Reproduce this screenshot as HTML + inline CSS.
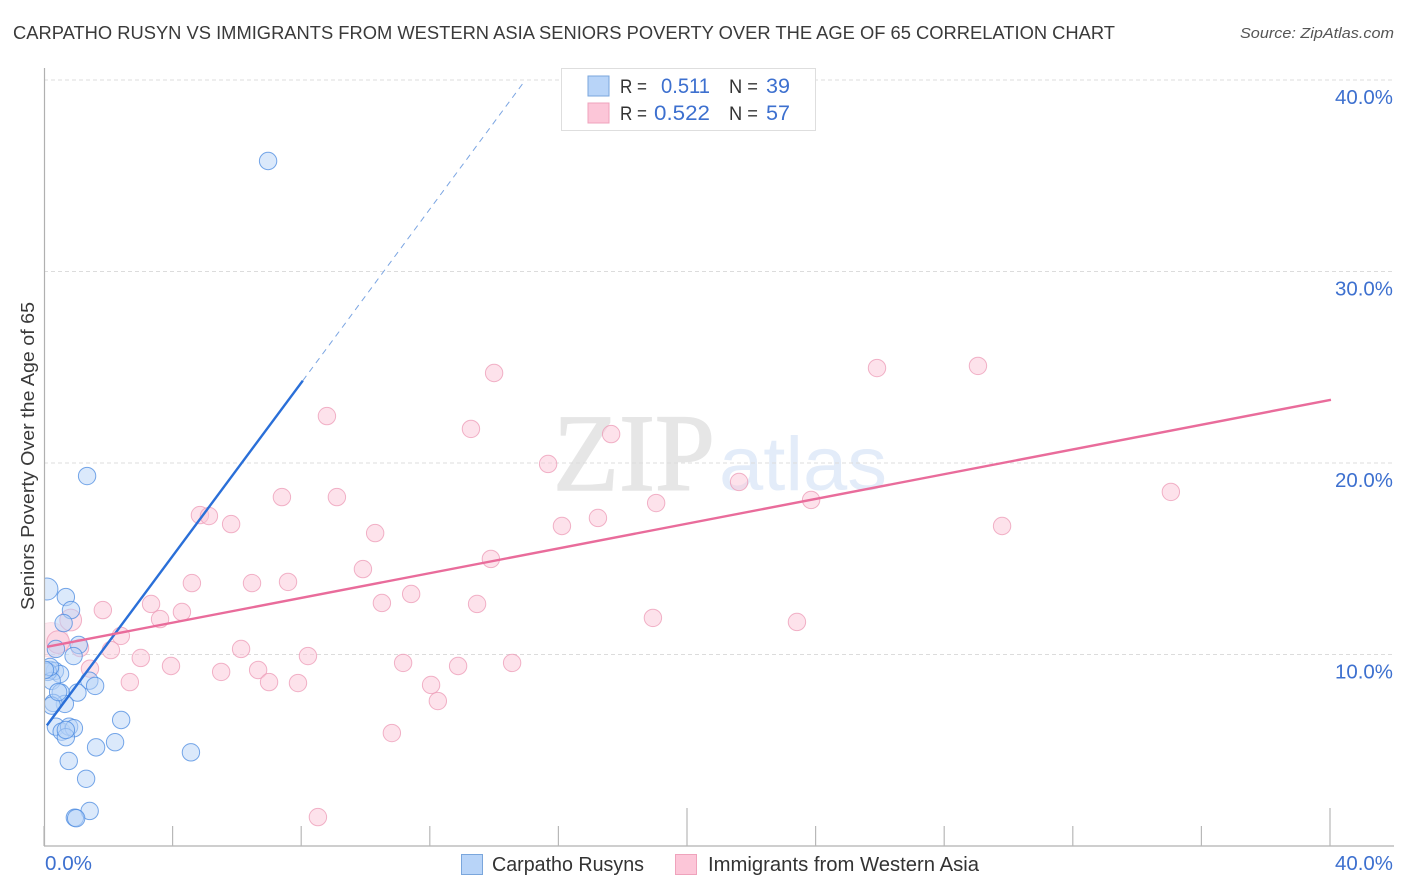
<!DOCTYPE html>
<html lang="en">
<head>
<meta charset="utf-8">
<title>Carpatho Rusyn vs Immigrants from Western Asia Seniors Poverty Correlation Chart</title>
<style>
html,body{margin:0;padding:0;background:#fff;width:1406px;height:892px;overflow:hidden}
svg{display:block;font-family:"Liberation Sans",sans-serif}
</style>
</head>
<body>
<svg id="chart" xmlns="http://www.w3.org/2000/svg" width="1406" height="892" viewBox="0 0 1406 892">
  <rect x="0" y="0" width="1406" height="892" fill="#fff"/>
  <text x="13" y="39" font-size="18.5" fill="#3a3a3a" textLength="1102" lengthAdjust="spacingAndGlyphs">CARPATHO RUSYN VS IMMIGRANTS FROM WESTERN ASIA SENIORS POVERTY OVER THE AGE OF 65 CORRELATION CHART</text>
  <text x="1394" y="38" font-size="15" font-style="italic" fill="#555" text-anchor="end" textLength="154" lengthAdjust="spacingAndGlyphs">Source: ZipAtlas.com</text>

  <g>
    <text x="553" y="490" font-family="'Liberation Serif',serif" font-size="110" fill="#e6e6e6" stroke="#e6e6e6" stroke-width="1.5" textLength="162" lengthAdjust="spacingAndGlyphs">ZIP</text>
    <text x="719" y="490" font-size="76" fill="#e3ecf9" textLength="168" lengthAdjust="spacingAndGlyphs">atlas</text>
  </g>

  <g id="grid"></g>
  <g id="points-pink"></g>
  <g id="points-blue"></g>
  <rect x="0" y="60" width="44.5" height="786" fill="#fff"/>
  <g id="axes"></g>
  <g id="trends"></g>
  <g id="tick-labels"></g>

  <text transform="translate(34,610) rotate(-90)" font-size="18.5" fill="#3a3a3a" textLength="308" lengthAdjust="spacingAndGlyphs">Seniors Poverty Over the Age of 65</text>

  <g>
    <rect x="561.5" y="68.5" width="254" height="62" fill="#fff" stroke="#dedede" stroke-width="1"/>
    <rect x="588" y="76" width="21" height="20" fill="#b8d4f8" stroke="#7aa6dc" stroke-width="1"/>
    <text x="620" y="93" font-size="19" fill="#333" textLength="27" lengthAdjust="spacingAndGlyphs">R =</text>
    <text x="710" y="93" font-size="21" fill="#3d70cf" text-anchor="end" textLength="49" lengthAdjust="spacingAndGlyphs">0.511</text>
    <text x="729" y="93" font-size="19" fill="#333" textLength="29" lengthAdjust="spacingAndGlyphs">N =</text>
    <text x="790" y="93" font-size="21" fill="#3d70cf" text-anchor="end" textLength="24" lengthAdjust="spacingAndGlyphs">39</text>
    <rect x="588" y="103" width="21" height="20" fill="#fcc6d8" stroke="#efa3bc" stroke-width="1"/>
    <text x="620" y="120" font-size="19" fill="#333" textLength="27" lengthAdjust="spacingAndGlyphs">R =</text>
    <text x="710" y="120" font-size="21" fill="#3d70cf" text-anchor="end" textLength="56" lengthAdjust="spacingAndGlyphs">0.522</text>
    <text x="729" y="120" font-size="19" fill="#333" textLength="29" lengthAdjust="spacingAndGlyphs">N =</text>
    <text x="790" y="120" font-size="21" fill="#3d70cf" text-anchor="end" textLength="24" lengthAdjust="spacingAndGlyphs">57</text>
  </g>

  <g>
    <rect x="461.5" y="854.5" width="21" height="20" fill="#b8d4f8" stroke="#7aa6dc" stroke-width="1"/>
    <text x="492" y="871" font-size="20" fill="#333" textLength="152" lengthAdjust="spacingAndGlyphs">Carpatho Rusyns</text>
    <rect x="675.5" y="854.5" width="21" height="20" fill="#fcc6d8" stroke="#efa3bc" stroke-width="1"/>
    <text x="708" y="871" font-size="20" fill="#333" textLength="271" lengthAdjust="spacingAndGlyphs">Immigrants from Western Asia</text>
  </g>
</svg>
<script>
// Values in percent.
const xTicks = [0, 4, 8, 12, 16, 20, 24, 28, 32, 36, 40];
const majorXTicks = [20, 40];
const yTicks = [10, 20, 30, 40];
const yTickLabels = ['10.0%', '20.0%', '30.0%', '40.0%'];
const xEndLabels = ['0.0%', '40.0%'];

const blueX = [6.97,1.34,0.09,0.68,0.84,0.61,1.08,0.37,0.92,0.19,0.34,0.50,0.12,0.24,1.41,1.59,1.04,0.52,0.65,0.29,0.24,0.37,0.55,0.78,0.93,0.68,2.40,2.21,1.62,4.57,0.77,1.31,1.42,0.96,1.00,0.19,0.03,0.44,0.68];
const blueY = [35.77,19.32,13.42,13.00,12.32,11.64,10.50,10.29,9.92,9.19,9.14,8.98,9.09,8.62,8.63,8.36,8.01,8.01,7.42,7.47,7.33,6.23,5.97,6.23,6.15,5.68,6.58,5.42,5.15,4.89,4.44,3.51,1.83,1.48,1.45,9.35,9.19,8.04,6.06];
const blueWeight = [1,1,1.27,1,1,1,1,1,1,1,1,1,1,1,1,1,1,1,1,1,1,1,1,1,1,1,1,1,1,1,1,1,1,1,1,1,1,1,1];

const pinkX = [14.00,8.80,13.28,17.64,15.68,21.62,25.91,29.05,35.05,7.40,9.11,23.86,19.04,4.85,5.13,5.82,16.11,17.23,29.80,10.30,13.90,9.92,4.60,6.47,7.59,11.42,10.51,13.47,3.33,1.83,4.29,3.61,18.94,23.42,0.83,2.39,0.22,0.44,1.12,2.08,6.13,8.21,3.01,11.17,14.56,12.88,3.95,6.66,5.51,1.43,2.67,7.00,7.90,12.04,12.25,10.82,8.52];
const pinkY = [24.70,22.45,21.78,21.51,19.95,19.01,24.96,25.07,18.49,18.22,18.22,18.07,17.91,17.28,17.23,16.81,16.71,17.13,16.71,16.34,14.99,14.46,13.73,13.73,13.79,13.16,12.69,12.64,12.64,12.32,12.22,11.85,11.91,11.70,11.80,10.97,10.76,10.65,10.34,10.23,10.29,9.92,9.82,9.56,9.56,9.40,9.40,9.19,9.09,9.26,8.56,8.56,8.51,8.41,7.57,5.90,1.51];
const pinkWeight = [1,1,1,1,1,1,1,1,1,1,1,1,1,1,1,1,1,1,1,1,1,1,1,1,1,1,1,1,1,1,1,1,1,1,1.25,1,2.0,1.3,1,1,1,1,1,1,1,1,1,1,1,1,1,1,1,1,1,1,1];

const blueTrendX = [0.09, 8.05];
const blueTrendY = [6.30, 24.30];
const blueDashX = [8.05, 14.93];
const blueDashY = [24.30, 39.90];
const pinkTrendX = [0.09, 40.03];
const pinkTrendY = [10.40, 23.30];

const NS = 'http://www.w3.org/2000/svg';
function sx(v) { return 44 + v * 32.15; }
function sy(v) { return 846 - v * 19.15; }
function make(tag, attrs, parent) {
  const el = document.createElementNS(NS, tag);
  for (const k in attrs) el.setAttribute(k, attrs[k]);
  parent.appendChild(el);
  return el;
}

const grid = document.getElementById('grid');
yTicks.forEach(function (t) {
  const line = make('line', { x1: 44, x2: 1394, y1: sy(t), y2: sy(t), stroke: '#dcdcdc', 'stroke-width': 1, 'stroke-dasharray': '4 3' }, grid);
  
  
});

const axes = document.getElementById('axes');
const yAxis = make('line', { x1: 44.5, x2: 44.5, y1: 68, y2: 846, stroke: '#b0b0b0', 'stroke-width': 1.2 }, axes);


const xAxis = make('line', { x1: 44, x2: 1394, y1: 846, y2: 846, stroke: '#b0b0b0', 'stroke-width': 1.2 }, axes);


xTicks.forEach(function (t) {
  const top = majorXTicks.indexOf(t) >= 0 ? 808 : 826;
  const tick = make('line', { x1: sx(t), x2: sx(t), y1: top, y2: 846, stroke: '#b8b8b8', 'stroke-width': 1.2 }, axes);
  
  
});

function drawPoints(group, xs, ys, weights, fill, stroke, name) {
  xs.forEach(function (v, i) {
    const weight = weights[i];
    const c = make('circle', {
      cx: sx(v), cy: sy(ys[i]), r: 8.7 * weight,
      fill: fill, 'fill-opacity': weight > 1.8 ? 0.4 : 0.5,
      stroke: stroke, 'stroke-opacity': weight > 1.8 ? 0.25 : 0.75, 'stroke-width': 1
    }, group);
    
    
  });
}
drawPoints(document.getElementById('points-pink'), pinkX, pinkY, pinkWeight, '#fbc6d8', '#ec9ab6', 'immigrants-point');
drawPoints(document.getElementById('points-blue'), blueX, blueY, blueWeight, '#b8d4f8', '#4a8ae0', 'carpatho-point');

const trends = document.getElementById('trends');
const blueDash = make('line', { x1: sx(blueDashX[0]), y1: sy(blueDashY[0]), x2: sx(blueDashX[1]), y2: sy(blueDashY[1]), stroke: '#7ba5e2', 'stroke-width': 1, 'stroke-dasharray': '6 5' }, trends);


const blueTrend = make('line', { x1: sx(blueTrendX[0]), y1: sy(blueTrendY[0]), x2: sx(blueTrendX[1]), y2: sy(blueTrendY[1]), stroke: '#2a6fd8', 'stroke-width': 2.4 }, trends);


const pinkTrend = make('line', { x1: sx(pinkTrendX[0]), y1: sy(pinkTrendY[0]), x2: sx(pinkTrendX[1]), y2: sy(pinkTrendY[1]), stroke: '#e96c9b', 'stroke-width': 2.4 }, trends);



const labels = document.getElementById('tick-labels');
yTicks.forEach(function (t, i) {
  const lab = make('text', { x: 1393, y: sy(t) + 24, 'font-size': 20, fill: '#3d70cf', 'text-anchor': 'end', textLength: 58, lengthAdjust: 'spacingAndGlyphs' }, labels);
  lab.textContent = yTickLabels[i];
  
  
});
const xStart = make('text', { x: 45, y: 870, 'font-size': 20, fill: '#3d70cf', textLength: 47, lengthAdjust: 'spacingAndGlyphs' }, labels);
xStart.textContent = xEndLabels[0];


const xEnd = make('text', { x: 1393, y: 870, 'font-size': 20, fill: '#3d70cf', 'text-anchor': 'end', textLength: 58, lengthAdjust: 'spacingAndGlyphs' }, labels);
xEnd.textContent = xEndLabels[1];


</script>
</body>
</html>
